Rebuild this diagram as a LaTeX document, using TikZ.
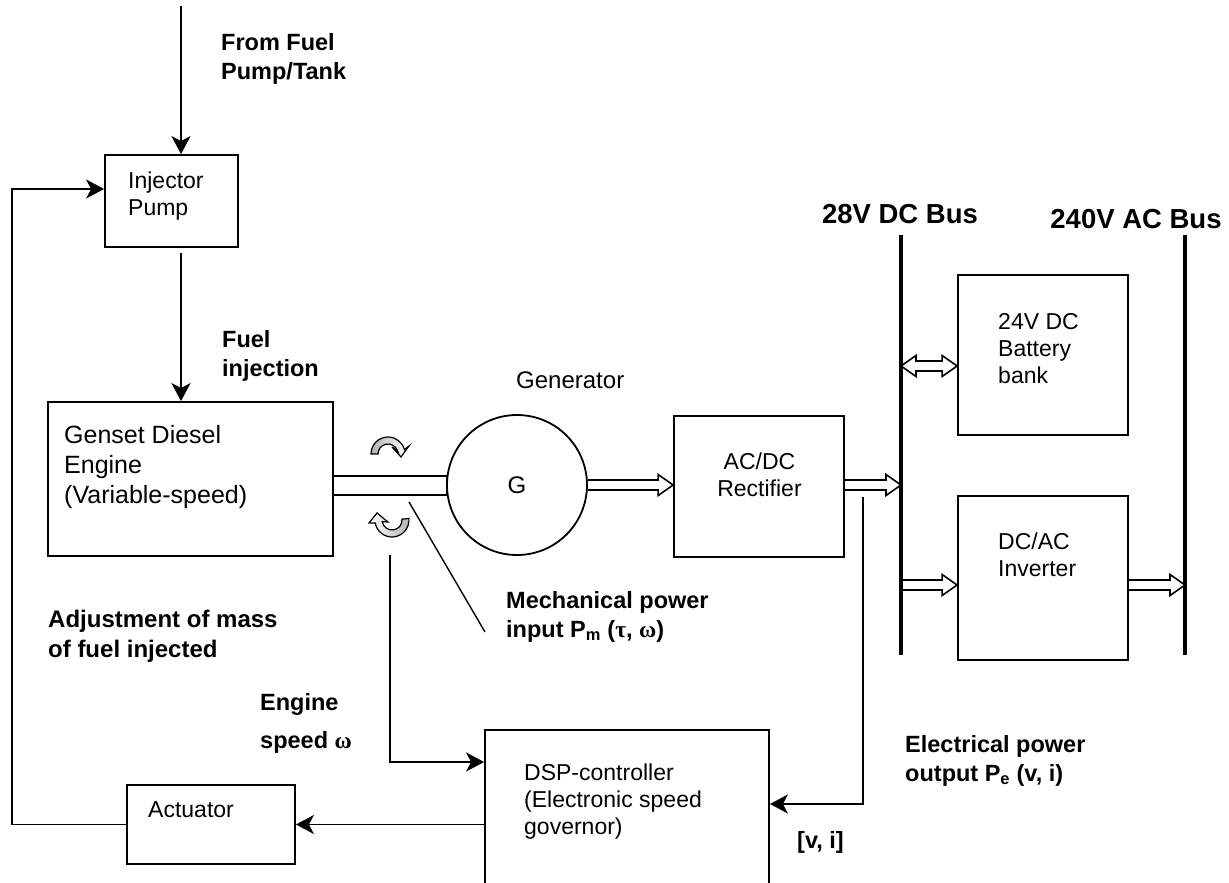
\documentclass[tikz,border=0pt]{standalone}
\usepackage{fontspec}
\setmainfont{Liberation Sans}
\newfontfamily\greekfont{Liberation Serif}
\usetikzlibrary{arrows.meta,positioning,calc}

\begin{document}
\begin{tikzpicture}[x=1pt,y=1pt,
    box/.style={rectangle, draw, line width=1.8pt, inner sep=0pt},
    txt/.style={anchor=base west, align=left, inner sep=0pt, font=\fontsize{23}{27}\selectfont},
    lbl/.style={anchor=base west, align=left, inner sep=0pt, font=\fontsize{23.5}{29}\selectfont\bfseries},
    buslbl/.style={lbl, anchor=base, font=\fontsize{27.5}{32}\selectfont\bfseries},
    arr/.style={-{Stealth[length=18pt,width=19pt,inset=5pt]}, line width=1.4pt},
    fuel/.style={arr, line width=2.8pt},
    bus/.style={line width=3.8pt},
    twist/.style={line width=1.2pt},
    hollow/.style={line width=1.6pt, to path={let \p1=(\tikztostart), \p2=(\tikztotarget) in
        (\x1,\y1+5pt) -- (\x2-15pt,\y1+5pt) -- (\x2-15pt,\y1+10.5pt) -- (\x2,\y1)
        -- (\x2-15pt,\y1-10.5pt) -- (\x2-15pt,\y1-5pt) -- (\x1,\y1-5pt)}},
    hollowboth/.style={line width=1.6pt, to path={let \p1=(\tikztostart), \p2=(\tikztotarget) in
        (\x1,\y1) -- (\x1+15pt,\y1+10.5pt) -- (\x1+15pt,\y1+5pt) -- (\x2-15pt,\y1+5pt)
        -- (\x2-15pt,\y1+10.5pt) -- (\x2,\y1) -- (\x2-15pt,\y1-10.5pt) -- (\x2-15pt,\y1-5pt)
        -- (\x1+15pt,\y1-5pt) -- (\x1+15pt,\y1-10.5pt) -- cycle}}
]
\useasboundingbox (0,0) rectangle (1229,-883);

% blocks
\node[box, minimum width=133pt, minimum height=92pt] (pump) at (171.5,-201) {};
\node[box, minimum width=285pt, minimum height=154pt] (engine) at (190.5,-479) {};
\node[box, minimum width=114pt, minimum height=19pt] (shaft) at (390,-485.5) {};
\node[circle, draw, line width=1.8pt, minimum size=140pt, inner sep=0pt,
      font=\fontsize{24}{28}\selectfont] (gen) at (517,-485) {G};
\node[box, minimum width=170pt, minimum height=141pt] (rect) at (759,-486.5) {};
\node[box, minimum width=170pt, minimum height=160pt] (batt) at (1043,-355) {};
\node[box, minimum width=170pt, minimum height=164pt] (inv) at (1043,-578) {};
\node[box, minimum width=284pt, minimum height=165pt] (dsp) at (627,-812.5) {};
\node[box, minimum width=168pt, minimum height=79pt] (act) at (211,-824.5) {};

% buses
\coordinate (dctop) at (901,-235);
\coordinate (dcbot) at (901,-655);
\coordinate (actop) at (1185,-235);
\coordinate (acbot) at (1185,-655);
\draw[bus] (dctop) -- (dcbot);
\draw[bus] (actop) -- (acbot);

% texts (base = last line)
\node[txt] (pumptxt) at (128,-215) {Injector\\Pump};
\node[txt, font=\fontsize{25}{30}\selectfont] (enginetxt) at (64,-503) {Genset Diesel\\Engine\\(Variable-speed)};
\node[txt, font=\fontsize{24}{28}\selectfont] (gentxt) at (516,-388) {Generator};
\node[txt, anchor=base, align=center] (recttxt) at (759.5,-496) {AC/DC\\Rectifier};
\node[txt] (batttxt) at (998,-383) {24V DC\\Battery\\bank};
\node[txt] (invtxt) at (998,-576) {DC/AC\\Inverter};
\node[txt] (dsptxt) at (524,-834) {DSP-controller\\(Electronic speed\\governor)};
\node[txt] (acttxt) at (148,-817) {Actuator};

\node[lbl] (fromlbl) at (221,-80) {From Fuel\\Pump/Tank};
\node[lbl] (injlbl) at (222,-376) {Fuel\\injection};
\node[buslbl] (dclbl) at (900,-223) {28V DC Bus};
\node[buslbl] (aclbl) at (1136,-228) {240V AC Bus};
\node[lbl, font=\fontsize{24}{30}\selectfont\bfseries] (adjlbl) at (48,-657) {Adjustment of mass\\of fuel injected};
\node[lbl] (mechlbl) at (506,-637) {Mechanical power\\input P\textsubscript{m} ({\greekfont τ}, {\greekfont ω})};
\node[lbl] (speedlbl) at (260,-748) {Engine\\[9pt]speed {\greekfont ω}};
\node[lbl] (eleclbl) at (905,-781) {Electrical power\\output P\textsubscript{e} (v, i)};
\node[lbl] (vilbl) at (797,-848) {[v, i]};

% fuel path
\coordinate (tank) at (181,-6);
\draw[fuel] (tank) -- (tank |- pump.north);
\draw[fuel] ([xshift=9.5pt]pump.south) ++(0,-5) -- ([xshift=-9.5pt]engine.north);

% power flow
\draw[hollow] (gen.east) to (rect.west |- gen.east);
\draw[hollow] (rect.east |- gen.east) to (dctop |- gen.east);
\draw[hollowboth] (dctop |- 0,-366) to (batt.west |- 0,-366);
\draw[hollow] (dctop |- 0,-585) to (inv.west |- 0,-585);
\draw[hollow] (inv.east |- 0,-585) to (actop |- 0,-585);

% shaft rotation
\shadedraw[twist, left color=gray!60, right color=white]
  (371,-454) arc[start angle=180, end angle=15, radius=17] -- (409,-446) -- (401,-457)
  -- (392,-447) -- (397.7,-451.4) arc[start angle=15, end angle=180, radius=10] -- cycle;
\shadedraw[twist, left color=white, right color=gray!60]
  (408.9,-518.5) arc[start angle=5, end angle=-170, radius=17] -- (369,-523) -- (377,-513)
  -- (388,-522) -- (382.2,-521.7) arc[start angle=-170, end angle=5, radius=10] -- cycle;

% leader to mechanical power label
\coordinate (mechtip) at (409,-502);
\coordinate (mechend) at (485,-632);
\draw[line width=1.4pt] (mechtip) -- (mechend);

% control loop
\coordinate (wtap) at (390,-555);
\coordinate (etap) at (863,-497);
\coordinate (loop) at (12,-824.5);
\draw[arr] (wtap) |- ([yshift=50.5pt]dsp.west);
\draw[arr] (etap) |- ([yshift=8.5pt]dsp.east);
\draw[arr] (dsp.west |- act.east) -- (act.east);
\draw[arr] (act.west) -- (loop) |- ([yshift=12pt]pump.west);
\end{tikzpicture}
\end{document}
